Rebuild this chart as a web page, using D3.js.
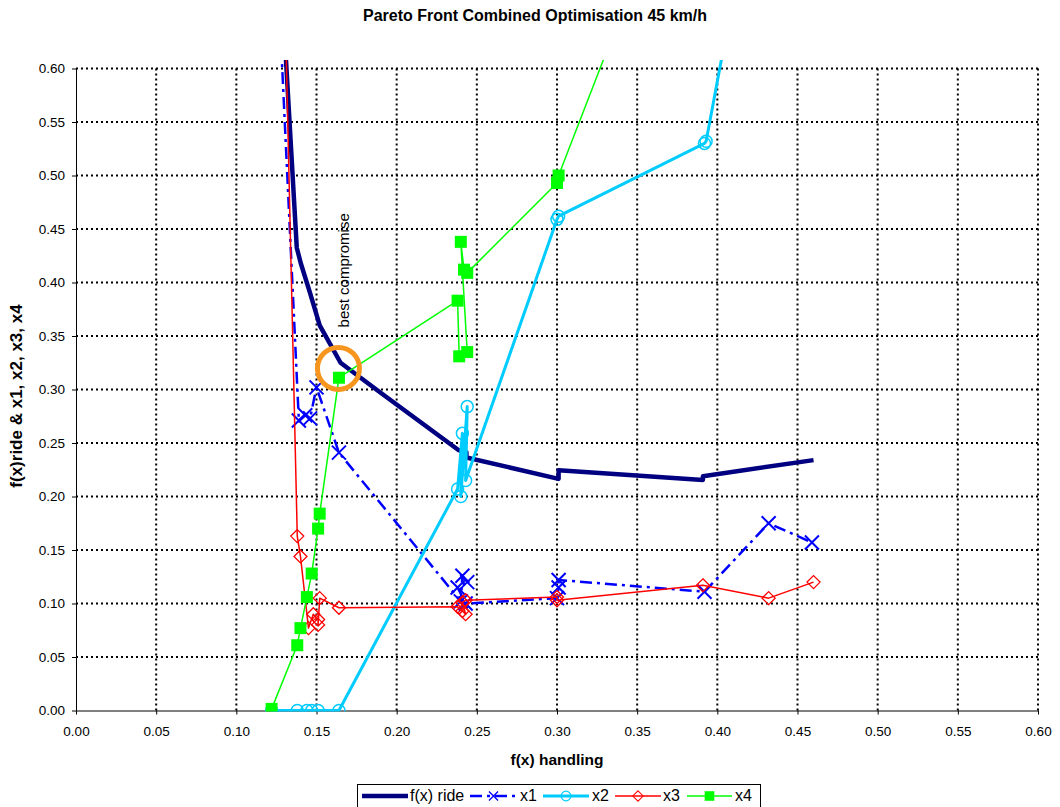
<!DOCTYPE html>
<html>
<head>
<meta charset="utf-8">
<script src="https://cdn.jsdelivr.net/npm/d3@7"></script>
<style>
    body { margin: 0; background: #fff; }
    svg { font-family: "Liberation Sans", Arial, sans-serif; }
    .grid line { stroke: #000; stroke-width: 2; stroke-dasharray: 2, 3; }
    .axis path, .axis line { stroke: #000; stroke-width: 1; }
    .axis text { font-size: 13.5px; fill: #000; }
</style>
</head>
<body>
<div id="chart"></div>
<script>

// values, x = f(x) handling, y = objective / parameter
let rideX = [0.1305, 0.1377, 0.1402, 0.146, 0.152, 0.165, 0.19, 0.2385, 0.2435, 0.2435, 0.301, 0.301, 0.391, 0.391, 0.460]
let rideY = [0.62, 0.4325, 0.418, 0.39, 0.360, 0.325, 0.297, 0.2435, 0.2415, 0.2365, 0.2165, 0.2245, 0.2155, 0.219, 0.234]

let x1X = [0.128, 0.139, 0.143, 0.146, 0.150, 0.164, 0.240, 0.241, 0.244, 0.238, 0.243, 0.300, 0.301, 0.301, 0.392, 0.432, 0.459]
let x1Y = [0.62, 0.271, 0.276, 0.273, 0.302, 0.241, 0.102, 0.126, 0.120, 0.115, 0.100, 0.105, 0.115, 0.122, 0.111, 0.175, 0.157]

let x2X = [0.122, 0.138, 0.144, 0.147, 0.151, 0.164, 0.238, 0.241, 0.240, 0.244, 0.243, 0.300, 0.301, 0.392, 0.393, 0.404]
let x2Y = [0.0, 0.0, 0.0, 0.0, 0.0, 0.0, 0.207, 0.259, 0.200, 0.284, 0.215, 0.459, 0.462, 0.530, 0.532, 0.62]

let x3X = [0.131, 0.138, 0.140, 0.145, 0.148, 0.151, 0.151, 0.152, 0.164, 0.238, 0.241, 0.243, 0.241, 0.243, 0.300, 0.300, 0.391, 0.432, 0.460]
let x3Y = [0.62, 0.163, 0.144, 0.077, 0.090, 0.085, 0.080, 0.105, 0.096, 0.097, 0.093, 0.090, 0.101, 0.103, 0.106, 0.103, 0.117, 0.105, 0.120]

let x4X = [0.122, 0.138, 0.140, 0.144, 0.147, 0.151, 0.152, 0.164, 0.238, 0.239, 0.244, 0.240, 0.242, 0.244, 0.300, 0.301, 0.332]
let x4Y = [0.0015, 0.061, 0.077, 0.106, 0.128, 0.170, 0.184, 0.311, 0.383, 0.331, 0.335, 0.438, 0.412, 0.409, 0.493, 0.500, 0.62]

let tickValues = [0, 0.05, 0.10, 0.15, 0.20, 0.25, 0.30, 0.35, 0.40, 0.45, 0.50, 0.55, 0.60]

// the marked point
let bestX = 0.1637
let bestY = 0.3197

let seriesNames = ["f(x) ride", "x1", "x2", "x3", "x4"]

let zip = (xs, ys) => xs.map((d, i) => ({ x: d, y: ys[i] }))

let series = [
    { name: seriesNames[0], data: zip(rideX, rideY), color: "#000080", width: 4.5, dash: null, marker: null },
    { name: seriesNames[1], data: zip(x1X, x1Y), color: "#0000FF", width: 2.5, dash: "12,5,3,5", marker: "x" },
    { name: seriesNames[2], data: zip(x2X, x2Y), color: "#00CCFF", width: 3, dash: null, marker: "circle" },
    { name: seriesNames[3], data: zip(x3X, x3Y), color: "#FF0000", width: 1.5, dash: null, marker: "diamond" },
    { name: seriesNames[4], data: zip(x4X, x4Y), color: "#00FF00", width: 1.5, dash: null, marker: "square" }
]

let width = 1060
let height = 807

let svg = d3.select("#chart").append("svg")
    .attr("width", width)
    .attr("height", height)

let xScale = d3.scaleLinear().domain([0, 0.6]).range([76, 1038])
let yScale = d3.scaleLinear().domain([0, 0.6]).range([710.5, 68.5])

// title
svg.append("text")
    .attr("x", 535)
    .attr("y", 21)
    .attr("text-anchor", "middle")
    .attr("font-weight", "bold")
    .attr("font-size", "16px")
    .text("Pareto Front Combined Optimisation 45 km/h")

// dotted grid
let grid = svg.append("g").attr("class", "grid")
grid.selectAll(".h").data(tickValues.slice(1))
    .join("line")
    .attr("x1", xScale(0)).attr("x2", xScale(0.6))
    .attr("y1", d => yScale(d)).attr("y2", d => yScale(d))
grid.selectAll(".v").data(tickValues.slice(1))
    .join("line")
    .attr("class", "v")
    .attr("y1", yScale(0)).attr("y2", yScale(0.6))
    .attr("x1", d => xScale(d)).attr("x2", d => xScale(d))

// axes
let fmt = d3.format(".2f")
svg.append("g")
    .attr("class", "axis x-axis")
    .attr("transform", `translate(0,${yScale(0)})`)
    .call(d3.axisBottom(xScale).tickValues(tickValues).tickFormat(fmt).tickSize(4).tickSizeOuter(0).tickPadding(12))

svg.append("g")
    .attr("class", "axis y-axis")
    .attr("transform", `translate(${xScale(0)},0)`)
    .call(d3.axisLeft(yScale).tickValues(tickValues).tickFormat(fmt).tickSize(4).tickSizeOuter(0).tickPadding(7))

// axis titles
svg.append("text")
    .attr("x", 557)
    .attr("y", 765)
    .attr("text-anchor", "middle")
    .attr("font-weight", "bold")
    .attr("font-size", "15.5px")
    .text("f(x) handling")

svg.append("text")
    .attr("transform", `translate(22,${396}) rotate(-90)`)
    .attr("text-anchor", "middle")
    .attr("font-weight", "bold")
    .attr("font-size", "17px")
    .text("f(x)ride & x1, x2, x3, x4")

// series lines are clipped slightly above the plot top like the original
svg.append("clipPath").attr("id", "plotclip")
    .append("rect")
    .attr("x", xScale(0)).attr("y", 60)
    .attr("width", xScale(0.6) - xScale(0)).attr("height", yScale(0) - 60 + 1)

let line = d3.line().x(d => xScale(d.x)).y(d => yScale(d.y))

function drawMarker(sel, type, color) {
    if (type == "x") {
        sel.append("path").attr("d", "M-7,-7L7,7M-7,7L7,-7")
            .attr("stroke", color).attr("stroke-width", 2).attr("fill", "none")
    } else if (type == "circle") {
        sel.append("circle").attr("r", 6)
            .attr("stroke", color).attr("stroke-width", 1.5).attr("fill", "none")
    } else if (type == "diamond") {
        sel.append("path").attr("d", "M0,-6.5L6.5,0L0,6.5L-6.5,0Z")
            .attr("stroke", color).attr("stroke-width", 1.3).attr("fill", "none")
    } else if (type == "square") {
        sel.append("rect").attr("x", -6).attr("y", -6).attr("width", 12).attr("height", 12)
            .attr("fill", color)
    }
}

let plot = svg.append("g").attr("clip-path", "url(#plotclip)")

series.forEach(s => {
    let g = plot.append("g").attr("class", "series")
    g.append("path")
        .datum(s.data)
        .attr("d", line)
        .attr("fill", "none")
        .attr("stroke", s.color)
        .attr("stroke-width", s.width)
        .attr("stroke-linejoin", "round")
        .attr("stroke-dasharray", s.dash)

    if (s.marker) {
        g.selectAll(".mk")
            .data(s.data.filter(d => d.y <= 0.6))
            .join("g")
            .attr("class", "mk")
            .attr("transform", d => `translate(${xScale(d.x)},${yScale(d.y)})`)
            .each(function () { drawMarker(d3.select(this), s.marker, s.color) })
    }
})

// best compromise annotation
svg.append("circle")
    .attr("cx", xScale(bestX))
    .attr("cy", yScale(bestY))
    .attr("r", 21)
    .attr("fill", "none")
    .attr("stroke", "#F7961E")
    .attr("stroke-width", 5)

svg.append("text")
    .attr("transform", `translate(${xScale(bestX) + 11},${yScale(bestY) - 41}) rotate(-90)`)
    .attr("font-size", "15px")
    .text("best compromise")

// legend
let legend = svg.append("g").attr("class", "legend")
legend.append("rect")
    .attr("x", 357.5).attr("y", 784.5)
    .attr("width", 403).attr("height", 30)
    .attr("fill", "#fff").attr("stroke", "#000")

let legendItems = [
    { x1: 362, x2: 408, tx: 410 },
    { x1: 470, x2: 517, tx: 520 },
    { x1: 543, x2: 589, tx: 592 },
    { x1: 615, x2: 661, tx: 663 },
    { x1: 687, x2: 732, tx: 735 }
]
let ly = 796
series.forEach((s, i) => {
    let it = legendItems[i]
    let g = legend.append("g")
    g.append("line")
        .attr("x1", it.x1).attr("x2", it.x2)
        .attr("y1", ly).attr("y2", ly)
        .attr("stroke", s.color)
        .attr("stroke-width", s.width)
        .attr("stroke-dasharray", s.dash)
    if (s.marker) {
        let m = g.append("g").attr("transform", `translate(${(it.x1 + it.x2) / 2},${ly})`)
        drawMarker(m, s.marker, s.color)
        if (s.marker == "x") m.attr("transform", `translate(${(it.x1 + it.x2) / 2},${ly}) scale(0.65)`)
        if (s.marker != "x") m.attr("transform", `translate(${(it.x1 + it.x2) / 2},${ly}) scale(0.8)`)
    }
    g.append("text")
        .attr("x", it.tx).attr("y", ly + 5)
        .attr("font-size", "16px")
        .text(s.name)
})

</script>
</body>
</html>
